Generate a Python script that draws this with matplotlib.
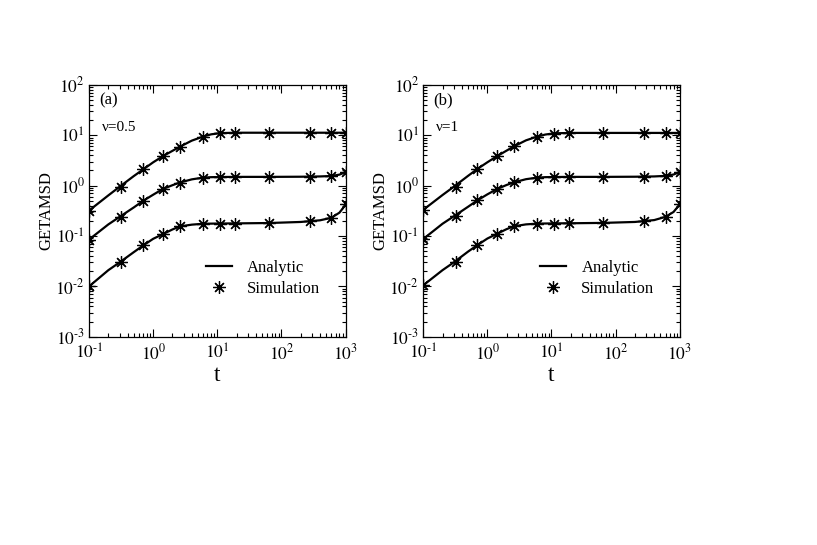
import numpy as np
import matplotlib
matplotlib.use('Agg')
import matplotlib.pyplot as plt
from matplotlib.ticker import LogLocator, FuncFormatter, NullFormatter

plt.rcParams['font.family'] = ['Liberation Serif', 'DejaVu Serif']
plt.rcParams['mathtext.fontset'] = 'stix'

# analytic curves
t_line = [0.1, 0.2, 0.3, 0.5, 0.7, 1.0, 1.4, 2.0, 2.6, 4.0, 6.0, 8.0, 11, 20, 64,
          200, 400, 600, 800, 900, 1000]
a_top = [0.32, 0.64, 0.95, 1.55, 2.1, 2.9, 3.8, 4.9, 5.9, 7.8, 9.4, 10.4, 11.0, 11.2, 11.2,
         11.2, 11.2, 11.2, 11.2, 11.2, 11.2]
a_mid = [0.085, 0.17, 0.24, 0.37, 0.50, 0.66, 0.85, 1.02, 1.15, 1.33, 1.44, 1.47, 1.48, 1.49, 1.49,
         1.50, 1.52, 1.55, 1.65, 1.75, 1.9]
a_bot = [0.010, 0.021, 0.030, 0.048, 0.065, 0.088, 0.108, 0.135, 0.155, 0.168, 0.175, 0.176, 0.177, 0.178, 0.181,
         0.19, 0.205, 0.23, 0.29, 0.35, 0.43]
b_top = [0.33, 0.65, 0.95, 1.56, 2.14, 2.9, 3.8, 4.95, 6.0, 7.9, 9.4, 10.3, 10.9, 11.1, 11.1,
         11.1, 11.1, 11.1, 11.1, 11.1, 11.1]
b_mid = [0.087, 0.175, 0.246, 0.38, 0.51, 0.67, 0.85, 1.03, 1.16, 1.34, 1.44, 1.47, 1.48, 1.49, 1.49,
         1.50, 1.52, 1.56, 1.66, 1.76, 1.9]
b_bot = [0.0105, 0.021, 0.030, 0.049, 0.066, 0.089, 0.11, 0.137, 0.156, 0.17, 0.176, 0.177, 0.178, 0.179, 0.182,
         0.19, 0.207, 0.24, 0.30, 0.36, 0.43]

# simulation points
t_sim = [0.1, 0.32, 0.7, 1.4, 2.6, 5.9, 11, 19, 64, 280, 600, 1000]
sa_top = [0.32, 0.95, 2.1, 3.8, 5.9, 9.3, 11.1, 11.2, 11.2, 11.2, 11.2, 11.2]
sa_mid = [0.085, 0.24, 0.50, 0.85, 1.15, 1.44, 1.48, 1.48, 1.48, 1.50, 1.55, 1.9]
sa_bot = [0.010, 0.030, 0.065, 0.108, 0.156, 0.172, 0.175, 0.176, 0.180, 0.196, 0.23, 0.43]
sb_top = [0.33, 0.95, 2.14, 3.8, 6.0, 9.3, 10.8, 11.1, 11.1, 11.1, 11.1, 11.1]
sb_mid = [0.087, 0.246, 0.51, 0.85, 1.16, 1.44, 1.48, 1.48, 1.48, 1.50, 1.55, 1.9]
sb_bot = [0.0105, 0.030, 0.066, 0.11, 0.156, 0.176, 0.177, 0.178, 0.181, 0.196, 0.24, 0.43]

panels = [
    ('(a)', 'ν=0.5', [a_top, a_mid, a_bot], [sa_top, sa_mid, sa_bot]),
    ('(b)', 'ν=1', [b_top, b_mid, b_bot], [sb_top, sb_mid, sb_bot]),
]


def pow10(v, pos):
    e = int(round(np.log10(v)))
    if e < 0:
        return r'$10^{\text{-}%d}$' % (-e)
    return r'$10^{%d}$' % e


fig = plt.figure(figsize=(8.17, 5.45), dpi=100)
lefts = [0.109, 0.518]
star = (8, 2, 0)

for left, (tag, nu, lines, sims) in zip(lefts, panels):
    ax = fig.add_axes([left, 0.382, 0.314, 0.4624])
    for i, (yl, ys) in enumerate(zip(lines, sims)):
        ax.plot(t_line, yl, color='black', lw=1.6, label='Analytic' if i == 0 else None)
        ax.plot(t_sim, ys, ls='none', marker=star, ms=9, mew=0.9, color='black',
                label='Simulation' if i == 0 else None)
    ax.set_xscale('log')
    ax.set_yscale('log')
    ax.set_xlim(0.1, 1000)
    ax.set_ylim(1e-3, 1e2)
    for axis in (ax.xaxis, ax.yaxis):
        axis.set_major_locator(LogLocator(base=10, numticks=20))
        axis.set_minor_locator(LogLocator(base=10, subs=np.arange(2, 10), numticks=20))
        axis.set_major_formatter(FuncFormatter(pow10))
        axis.set_minor_formatter(NullFormatter())
    ax.tick_params(which='both', direction='in', top=True, right=True, labelsize=12.5)
    ax.tick_params(which='major', length=6, width=0.8)
    ax.tick_params(which='minor', length=3, width=0.8)
    ax.tick_params(axis='x', pad=5)
    ax.tick_params(axis='y', pad=3)
    for sp in ax.spines.values():
        sp.set_linewidth(0.9)
    ax.set_xlabel('t', fontsize=17, labelpad=1)
    ax.set_ylabel('GETAMSD', fontsize=12, labelpad=1)
    ax.text(0.04, 0.94, tag, transform=ax.transAxes, fontsize=12, va='center')
    ax.text(0.05, 0.83, nu, transform=ax.transAxes, fontsize=11, va='center')
    ax.legend(loc='lower right', bbox_to_anchor=(0.96, 0.10), frameon=False, fontsize=12,
              handlelength=1.6, handletextpad=0.9, labelspacing=0.3)

fig.savefig('out.png', dpi=100)
